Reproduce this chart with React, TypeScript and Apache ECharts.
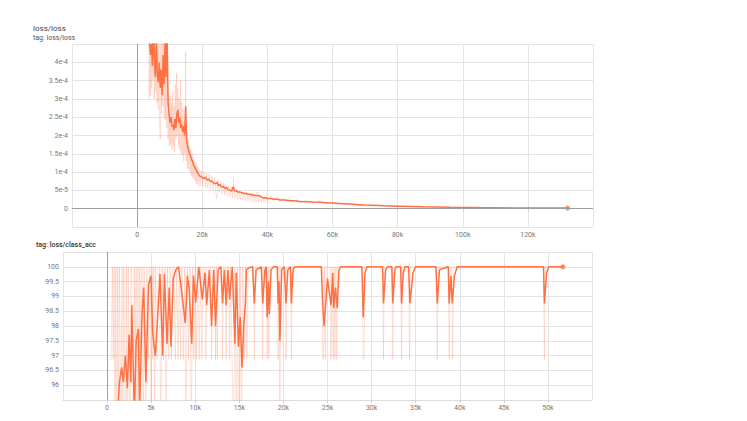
import React, { useEffect, useRef } from "react";
import * as echarts from "echarts";

const ORANGE = "#ff7043";

// ---- loss/loss (top panel) ----
const lossXTicks = { min: -20000, max: 140000, interval: 20000 };
const lossYTicks = { min: -5e-5, max: 4.5e-4, interval: 5e-5 };

const lossSmooth: number[][] = [
  [3500, 5.2e-4], [3800, 4.6e-4], [4100, 4.2e-4], [4400, 4.5e-4], [4700, 3.9e-4], [5000, 5.0e-4],
  [5300, 4.1e-4], [5600, 3.6e-4], [5900, 4.6e-4], [6200, 3.7e-4], [6500, 3.45e-4], [6800, 4.0e-4],
  [7100, 3.3e-4], [7400, 3.8e-4], [7700, 3.1e-4], [8000, 4.2e-4], [8300, 3.4e-4], [8600, 4.7e-4],
  [8900, 3.6e-4], [9200, 4.8e-4], [9500, 2.9e-4], [9800, 2.6e-4], [10100, 2.35e-4], [10400, 2.5e-4],
  [10700, 2.25e-4], [11000, 2.3e-4], [11300, 2.15e-4], [11600, 2.45e-4], [11900, 2.2e-4], [12200, 2.6e-4],
  [12500, 2.7e-4], [12800, 2.35e-4], [13100, 2.5e-4], [13400, 2.2e-4], [13700, 2.3e-4], [14000, 2.1e-4],
  [14300, 2.25e-4], [14600, 2.0e-4], [14900, 2.8e-4], [15200, 1.85e-4], [15500, 1.7e-4], [15800, 1.6e-4],
  [16100, 1.5e-4], [16400, 1.45e-4], [16700, 1.35e-4], [17000, 1.3e-4], [17300, 1.2e-4], [17600, 1.15e-4],
  [17900, 1.1e-4], [18200, 1.05e-4], [18500, 1.0e-4], [18800, 9.5e-5], [19100, 9.0e-5], [19500, 8.8e-5],
  [20000, 8.5e-5], [20500, 8.2e-5], [21000, 8.6e-5], [21500, 7.8e-5], [22000, 8.1e-5], [22500, 7.4e-5],
  [23000, 7.6e-5], [23500, 7.0e-5], [24000, 6.8e-5], [24500, 7.2e-5], [25000, 6.3e-5], [25500, 6.6e-5],
  [26000, 5.9e-5], [26500, 6.1e-5], [27000, 5.5e-5], [27500, 5.8e-5], [28000, 5.2e-5], [28500, 5.0e-5],
  [29000, 4.8e-5], [29500, 6.0e-5], [30000, 4.8e-5], [30500, 4.9e-5], [31000, 4.5e-5], [31500, 4.6e-5],
  [32000, 4.4e-5], [32500, 4.3e-5], [33000, 4.1e-5], [33500, 4.2e-5], [34000, 3.9e-5], [34500, 4.0e-5],
  [35000, 3.8e-5], [35500, 3.9e-5], [36000, 3.6e-5], [36500, 3.7e-5], [37000, 3.5e-5], [37500, 3.6e-5],
  [38000, 3.3e-5], [38500, 3.0e-5], [39000, 2.9e-5], [39500, 3.0e-5], [40000, 2.8e-5], [41000, 2.8e-5],
  [42000, 2.6e-5], [43000, 2.6e-5], [44000, 2.4e-5], [45000, 2.4e-5], [46000, 2.3e-5], [47000, 2.2e-5],
  [48000, 2.2e-5], [49000, 2.1e-5], [50000, 2.0e-5], [52000, 1.9e-5], [54000, 1.8e-5], [56000, 1.75e-5],
  [58000, 1.65e-5], [60000, 1.55e-5], [62000, 1.45e-5], [64000, 1.35e-5], [66000, 1.2e-5], [68000, 1.1e-5],
  [70000, 1.0e-5], [72000, 0.95e-5], [74000, 0.88e-5], [76000, 0.8e-5], [78000, 0.75e-5], [80000, 0.7e-5],
  [84000, 0.6e-5], [88000, 0.5e-5], [92000, 0.45e-5], [96000, 0.4e-5], [100000, 0.36e-5], [105000, 0.3e-5],
  [110000, 0.26e-5], [115000, 0.22e-5], [120000, 0.2e-5], [125000, 0.18e-5], [132200, 0.16e-5],
];

const lossRaw: number[][] = [
  [3500, 6.2e-4], [3700, 3.0e-4], [3900, 5.6e-4], [4100, 3.1e-4], [4300, 5.9e-4], [4500, 3.3e-4],
  [4700, 6.0e-4], [4900, 3.5e-4], [5100, 5.8e-4], [5300, 3.0e-4], [5500, 5.5e-4], [5700, 3.2e-4],
  [5900, 5.2e-4], [6100, 2.9e-4], [6300, 4.6e-4], [6500, 2.7e-4], [6700, 5.0e-4], [6900, 2.5e-4],
  [7100, 1.9e-4], [7300, 4.8e-4], [7500, 2.6e-4], [7700, 5.4e-4], [7900, 2.8e-4], [8100, 5.6e-4],
  [8300, 2.5e-4], [8500, 5.8e-4], [8700, 2.4e-4], [8900, 5.5e-4], [9100, 2.2e-4], [9300, 4.9e-4],
  [9500, 1.9e-4], [9700, 3.0e-4], [9900, 1.7e-4], [10100, 3.1e-4], [10300, 1.75e-4], [10500, 2.9e-4],
  [10700, 1.6e-4], [10900, 3.2e-4], [11100, 1.7e-4], [11300, 2.8e-4], [11500, 1.55e-4], [11700, 3.4e-4],
  [11900, 1.9e-4], [12100, 3.7e-4], [12300, 2.0e-4], [12500, 3.3e-4], [12700, 1.7e-4], [12900, 3.0e-4],
  [13100, 1.6e-4], [13300, 3.5e-4], [13500, 1.5e-4], [13700, 2.9e-4], [13900, 1.45e-4], [14100, 2.7e-4],
  [14300, 1.3e-4], [14500, 2.4e-4], [14700, 1.5e-4], [14900, 4.3e-4], [15100, 1.3e-4], [15300, 2.1e-4],
  [15500, 1.1e-4], [15700, 1.9e-4], [15900, 1.05e-4], [16100, 1.75e-4], [16300, 1.0e-4], [16500, 1.6e-4],
  [16700, 9.0e-5], [16900, 1.5e-4], [17100, 8.5e-5], [17300, 1.4e-4], [17500, 8.0e-5], [17700, 1.3e-4],
  [17900, 7.5e-5], [18100, 1.25e-4], [18300, 6.8e-5], [18500, 1.15e-4], [18700, 6.5e-5], [19000, 1.1e-4],
  [19300, 6.0e-5], [19700, 1.05e-4], [20100, 6.2e-5], [20500, 1.0e-4], [20900, 5.8e-5], [21300, 9.8e-5],
  [21700, 5.5e-5], [22100, 9.5e-5], [22500, 5.2e-5], [22900, 9.0e-5], [23300, 5.0e-5], [23700, 8.5e-5],
  [24100, 4.6e-5], [24500, 2.8e-5], [24900, 8.0e-5], [25300, 4.4e-5], [25700, 7.5e-5], [26100, 4.0e-5],
  [26500, 7.0e-5], [26900, 3.6e-5], [27300, 6.5e-5], [27700, 3.4e-5], [28100, 6.2e-5], [28500, 3.2e-5],
  [28900, 6.0e-5], [29300, 3.0e-5], [29600, 8.4e-5], [30100, 2.8e-5], [30500, 5.2e-5], [30900, 2.6e-5],
  [31300, 4.9e-5], [31700, 2.5e-5], [32100, 4.6e-5], [32500, 2.4e-5], [32900, 4.4e-5], [33300, 2.2e-5],
  [33700, 4.2e-5], [34100, 2.1e-5], [34500, 4.0e-5], [34900, 2.0e-5], [35300, 3.8e-5], [35700, 1.9e-5],
  [36100, 3.6e-5], [36500, 1.8e-5], [36900, 4.6e-5], [37300, 1.8e-5], [37700, 3.4e-5], [38100, 1.7e-5],
  [38500, 3.2e-5], [39000, 1.6e-5], [39500, 3.0e-5], [40000, 2.0e-5], [41000, 3.4e-5], [42000, 2.0e-5],
  [43000, 3.2e-5], [44000, 1.9e-5], [45000, 3.0e-5], [46000, 1.8e-5], [47000, 2.8e-5], [48000, 1.7e-5],
  [49000, 2.6e-5], [50000, 1.6e-5], [52000, 2.4e-5], [54000, 1.4e-5], [56000, 2.2e-5], [58000, 1.3e-5],
  [60000, 1.9e-5], [63000, 1.1e-5], [66000, 1.5e-5], [70000, 0.8e-5], [74000, 1.0e-5], [78000, 0.6e-5],
  [82000, 0.75e-5], [88000, 0.45e-5], [94000, 0.45e-5], [100000, 0.3e-5], [110000, 0.25e-5],
  [120000, 0.2e-5], [132200, 0.16e-5],
];

// ---- loss/class_acc (bottom panel) ----
const accXTicks = { min: -5000, max: 55000, interval: 5000 };
const accYTicks = { min: 95.5, max: 100.5, interval: 0.5 };

const accSmooth: number[][] = [
  [1100, 94.5], [1400, 96.1], [1650, 96.6], [1850, 96.1], [2070, 97.0], [2300, 95.9], [2500, 97.7],
  [2700, 96.1], [2800, 98.7], [3100, 95.0], [3300, 97.5], [3550, 97.9], [3700, 95.2], [3960, 98.4],
  [4150, 99.3], [4400, 96.1], [4700, 99.4], [4980, 99.7], [5160, 97.8], [5470, 97.0], [5700, 98.1],
  [6000, 99.76], [6300, 97.0], [6500, 99.76], [6800, 97.4], [7050, 99.3], [7250, 97.3], [7500, 99.6],
  [7800, 99.9], [8100, 100], [8400, 99.3], [8560, 98.9], [8870, 98.1], [9100, 99.7], [9300, 99.3],
  [9600, 97.4], [9800, 99.7], [10050, 98.8], [10400, 100], [10800, 98.9], [11100, 99.8], [11300, 98.7],
  [11600, 99.9], [11850, 98.0], [12100, 99.9], [12300, 98.0], [12600, 99.9], [12900, 100], [13100, 98.76],
  [13300, 99.9], [13500, 98.7], [13700, 99.9], [13900, 98.9], [14200, 100], [14500, 97.4], [14650, 99.8],
  [14900, 97.3], [15100, 98.3], [15300, 96.6], [15500, 98.0], [15700, 98.8], [15800, 99.9], [16000, 99.95],
  [16500, 100], [16700, 98.76], [16900, 99.9], [17500, 100], [17650, 98.76], [17900, 99.9], [18050, 100],
  [18150, 98.3], [18300, 99.5], [18400, 98.4], [18600, 99.9], [18900, 100], [19300, 100], [19400, 98.76],
  [19500, 99.5], [19600, 97.5], [19800, 99.9], [20100, 100], [20300, 98.76], [20500, 99.9], [20800, 100],
  [20900, 98.76], [21100, 99.9], [21300, 100], [24300, 100], [24450, 98.8], [24600, 98.0], [25000, 99.6],
  [25400, 98.7], [25600, 99.8], [25700, 98.6], [25900, 99.3], [26100, 98.6], [26300, 99.9], [26500, 100],
  [28900, 100], [29050, 98.3], [29250, 99.8], [29500, 100], [31250, 100], [31350, 98.76], [31600, 99.9],
  [31800, 100], [32300, 100], [32400, 98.76], [32650, 99.9], [32800, 100], [33300, 100], [33400, 98.76],
  [33600, 99.8], [33800, 100], [34200, 100], [34350, 98.76], [34700, 99.8], [35000, 100], [37300, 100],
  [37450, 98.76], [37700, 99.9], [38700, 100], [38800, 98.76], [39000, 99.7], [39150, 98.76], [39400, 99.7],
  [39700, 100], [49500, 100], [49600, 98.76], [49850, 99.8], [50100, 100], [51700, 100],
];

const accRaw: number[][] = [
  [300, 96.875], [450, 96.875], [600, 100], [700, 96.875], [800, 100], [900, 93.75], [1000, 100],
  [1100, 90.625], [1200, 100], [1300, 93.75], [1400, 100], [1500, 96.875], [1600, 93.75], [1700, 100],
  [1800, 90.625], [1900, 100], [2000, 96.875], [2100, 93.75], [2200, 100], [2300, 90.625], [2400, 100],
  [2500, 96.875], [2600, 93.75], [2700, 100], [2800, 100], [2900, 90.625], [3000, 93.75], [3100, 100],
  [3200, 96.875], [3300, 100], [3400, 93.75], [3500, 100], [3600, 90.625], [3700, 100], [3800, 96.875],
  [3900, 100], [4000, 100], [4100, 93.75], [4200, 100], [4300, 96.875], [4400, 93.75], [4500, 100],
  [4600, 100], [4700, 96.875], [4800, 100], [4900, 100], [5000, 93.75], [5100, 100], [5200, 96.875],
  [5300, 100], [5400, 93.75], [5500, 100], [5650, 96.875], [5800, 100], [5950, 100], [6100, 93.75],
  [6250, 100], [6400, 96.875], [6550, 100], [6700, 93.75], [6850, 100], [7000, 96.875], [7150, 100],
  [7300, 96.875], [7450, 100], [7600, 100], [7750, 96.875], [7900, 100], [8050, 96.875], [8200, 100],
  [8350, 96.875], [8500, 100], [8650, 96.875], [8800, 100], [8950, 93.75], [9100, 100], [9250, 96.875],
  [9400, 100], [9550, 93.75], [9700, 100], [9850, 96.875], [10000, 100], [10150, 96.875], [10300, 100],
  [10450, 96.875], [10600, 100], [10750, 96.875], [10900, 100], [11100, 100], [11200, 96.875], [11300, 100],
  [11750, 100], [11850, 96.875], [11950, 100], [12200, 100], [12300, 96.875], [12400, 100], [12500, 96.875],
  [12600, 100], [13000, 100], [13100, 96.875], [13200, 100], [13400, 100], [13500, 96.875], [13600, 100],
  [13800, 100], [13900, 96.875], [14000, 100], [14350, 93.75], [14500, 100], [14650, 93.75], [14800, 100],
  [14950, 90.625], [15100, 100], [15250, 93.75], [15400, 100], [15550, 96.875], [15700, 100],
  [15850, 96.875], [16000, 100], [16600, 100], [16700, 96.875], [16800, 100], [17550, 100],
  [17650, 96.875], [17750, 100], [18050, 100], [18150, 96.875], [18250, 100], [18350, 96.875],
  [18450, 100], [19300, 100], [19400, 96.875], [19500, 100], [19600, 93.75], [19700, 100], [20200, 100],
  [20300, 96.875], [20400, 100], [20800, 100], [20900, 96.875], [21000, 100], [24350, 100],
  [24450, 96.875], [24550, 96.875], [24650, 100], [24750, 96.875], [24850, 100], [25300, 100],
  [25400, 96.875], [25500, 100], [25650, 96.875], [25750, 100], [25850, 96.875], [25950, 100],
  [26050, 96.875], [26150, 100], [28950, 100], [29050, 96.875], [29150, 96.875], [29250, 100],
  [31250, 100], [31350, 96.875], [31450, 100], [32300, 100], [32400, 96.875], [32500, 100], [33300, 100],
  [33400, 96.875], [33500, 100], [34200, 100], [34300, 96.875], [34400, 100], [37350, 100],
  [37450, 96.875], [37550, 100], [38700, 100], [38800, 96.875], [38900, 100], [39100, 100],
  [39200, 96.875], [39300, 100], [49500, 100], [49600, 96.875], [49700, 100], [51700, 100],
];

const GRID_COLOR = "#e4e4e4";
const ZERO_COLOR = "#9e9e9e";
const LABEL_COLOR = "#777";
const FONT = "Roboto";

const fmtK = (v: number) => (Math.abs(v) < 1e-9 ? "0" : `${Math.round(v / 1000)}k`);
const fmtExp = (v: number) =>
  Math.abs(v) < 1e-12 ? "0" : parseFloat(v.toPrecision(3)).toExponential();
const fmtAcc = (v: number) => `${parseFloat(v.toFixed(2))}`;

function xAxisCfg(grid: number, t: { min: number; max: number; interval: number }) {
  return {
    type: "value",
    gridIndex: grid,
    min: t.min,
    max: t.max,
    interval: t.interval,
    axisLine: { show: true, lineStyle: { color: "#dcdcdc" } },
    axisTick: { show: true, length: 3, lineStyle: { color: "#cfcfcf" } },
    axisLabel: {
      fontSize: 7,
      color: LABEL_COLOR,
      fontFamily: FONT,
      margin: 4,
      showMinLabel: false,
      showMaxLabel: false,
      formatter: fmtK,
    },
    splitLine: { show: true, lineStyle: { color: GRID_COLOR, width: 1 } },
  };
}

function yAxisCfg(grid: number, t: { min: number; max: number; interval: number }, fmt: (v: number) => string) {
  return {
    type: "value",
    gridIndex: grid,
    min: t.min,
    max: t.max,
    interval: t.interval,
    axisLine: { show: false },
    axisTick: { show: false },
    axisLabel: {
      fontSize: 7,
      color: LABEL_COLOR,
      fontFamily: FONT,
      margin: 4,
      showMinLabel: false,
      showMaxLabel: false,
      formatter: fmt,
    },
    splitLine: { show: true, lineStyle: { color: GRID_COLOR, width: 1 } },
  };
}

export default function App() {
  const ref = useRef<HTMLDivElement>(null);

  useEffect(() => {
    if (!ref.current) return;
    const chart = echarts.init(ref.current, undefined, { renderer: "svg" });
    const zeroLine = (data: any[]) => ({
      silent: true,
      symbol: ["none", "none"],
      label: { show: false },
      lineStyle: { color: ZERO_COLOR, type: "solid", width: 1 },
      emphasis: { disabled: true },
      data,
    });
    chart.setOption({
      animation: false,
      textStyle: { fontFamily: FONT },
      title: [
        { text: "loss/loss", left: 33, top: 23.5, padding: 0, textStyle: { fontSize: 8, lineHeight: 9, color: "#444", fontWeight: "normal", fontFamily: FONT } },
        { text: "tag: loss/loss", left: 33, top: 33.5, padding: 0, textStyle: { fontSize: 7, lineHeight: 8, color: "#555", fontWeight: "normal", fontFamily: FONT } },
        { text: "tag: loss/class_acc", left: 36, top: 240.5, padding: 0, textStyle: { fontSize: 7, lineHeight: 8, color: "#333", fontWeight: 500, fontFamily: FONT } },
      ],
      grid: [
        { left: 72, top: 44, width: 521, height: 183 },
        { left: 63, top: 252, width: 529, height: 148 },
      ],
      xAxis: [xAxisCfg(0, lossXTicks), xAxisCfg(1, accXTicks)],
      yAxis: [yAxisCfg(0, lossYTicks, fmtExp), yAxisCfg(1, accYTicks, fmtAcc)],
      series: [
        {
          type: "line",
          xAxisIndex: 0,
          yAxisIndex: 0,
          data: lossRaw,
          showSymbol: false,
          clip: true,
          lineStyle: { color: ORANGE, width: 1, opacity: 0.2 },
          markLine: zeroLine([{ xAxis: 0 }, { yAxis: 0 }]),
          z: 2,
        },
        {
          type: "line",
          xAxisIndex: 0,
          yAxisIndex: 0,
          data: lossSmooth,
          showSymbol: false,
          clip: true,
          lineStyle: { color: ORANGE, width: 1.5 },
          z: 3,
        },
        {
          type: "scatter",
          xAxisIndex: 0,
          yAxisIndex: 0,
          data: [lossSmooth[lossSmooth.length - 1]],
          symbolSize: 5,
          itemStyle: { color: ORANGE },
          z: 4,
        },
        {
          type: "line",
          xAxisIndex: 1,
          yAxisIndex: 1,
          data: accRaw,
          showSymbol: false,
          clip: true,
          lineStyle: { color: ORANGE, width: 1, opacity: 0.2 },
          markLine: zeroLine([{ xAxis: 0 }]),
          z: 2,
        },
        {
          type: "line",
          xAxisIndex: 1,
          yAxisIndex: 1,
          data: accSmooth,
          showSymbol: false,
          clip: true,
          lineStyle: { color: ORANGE, width: 1.5 },
          z: 3,
        },
        {
          type: "scatter",
          xAxisIndex: 1,
          yAxisIndex: 1,
          data: [accSmooth[accSmooth.length - 1]],
          symbolSize: 5,
          itemStyle: { color: ORANGE },
          z: 4,
        },
      ],
    });
    return () => chart.dispose();
  }, []);

  return (
    <div
      ref={ref}
      style={{ position: "fixed", left: 0, top: 0, width: 747, height: 421, background: "#fff" }}
    />
  );
}
